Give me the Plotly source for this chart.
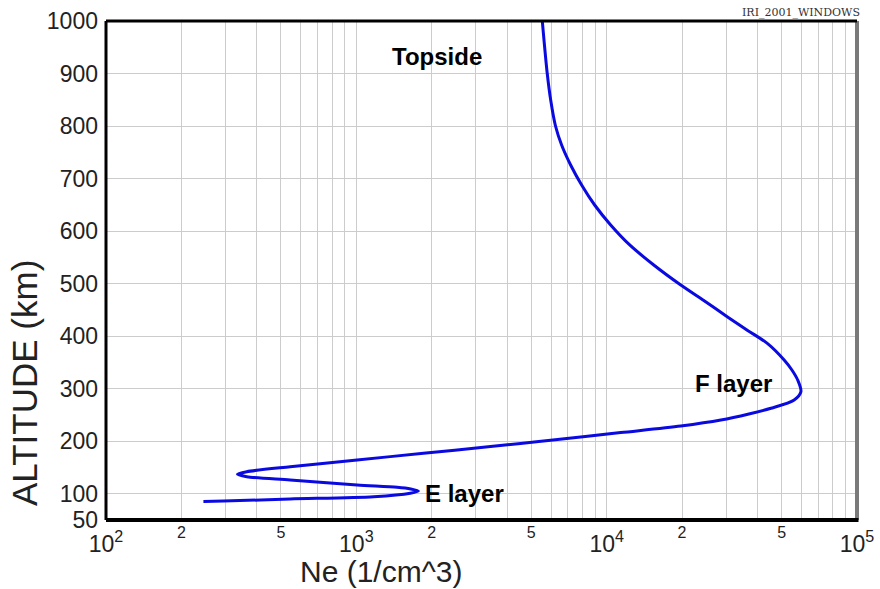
import math
import plotly.graph_objects as go

# Electron density profile (IRI-2001)
altitude_km = [85, 86, 90, 94.4, 101, 105, 109, 112.3, 116.7, 126.2, 132.5, 137, 142, 151.5, 164.3,
               177, 189.8, 195.8, 201.8, 216.4, 229, 240.4, 251.9, 262.7, 278.5, 294.3, 316.6, 335.6,
               354.7, 385.9, 411, 436.5, 468, 497.4, 535.5, 573.6, 611.6, 649.7, 687.8, 725.9, 763.9,
               800.1, 849.6, 901, 1000]
ne_cm3 = [245, 295, 544, 1173, 1644, 1770, 1650, 1455, 1007, 544, 365, 335, 365, 544, 1007,
          1854, 3436, 4530, 5970, 11380, 19770, 28580, 36980, 45290, 56100, 59700, 57940, 54950,
          51170, 43950, 36550, 30400, 24430, 19770, 15420, 12360, 10375, 8954, 7943, 7178, 6607,
          6246, 5976, 5786, 5532]

y_ticks = [50, 100, 200, 300, 400, 500, 600, 700, 800, 900, 1000]
decades = [100, 1000, 10000, 100000]
decade_labels = ["10<sup>2</sup>", "10<sup>3</sup>", "10<sup>4</sup>", "10<sup>5</sup>"]
minor_vals = [200, 500, 2000, 5000, 20000, 50000]
minor_labels = ["2", "5", "2", "5", "2", "5"]
minor_grid = [m * d for d in [100, 1000, 10000] for m in range(2, 10)]

labels = [("Topside", 2100, 933), ("F layer", 32200, 309), ("E layer", 2700, 101)]

FONT = "Liberation Sans, Arial, sans-serif"
GRID = "#cccccc"

# plot area in pixels
L, R, T, B = 106, 857, 21, 520

fig = go.Figure()
fig.add_trace(go.Scatter(x=ne_cm3, y=altitude_km, mode="lines",
                         line=dict(color="#0a0ae0", width=3, shape="spline", smoothing=0.8),
                         showlegend=False, hoverinfo="x+y"))
fig.add_trace(go.Scatter(x=[decades[0], decades[-1]], y=[y_ticks[0], y_ticks[0]], mode="lines",
                         line=dict(width=0, color="rgba(0,0,0,0)"), xaxis="x2",
                         showlegend=False, hoverinfo="skip"))

fig.update_layout(
    width=880, height=589,
    margin=dict(l=L, r=880 - R, t=T, b=589 - B),
    paper_bgcolor="white", plot_bgcolor="white",
    font=dict(family=FONT, color="#222222"),
    xaxis=dict(type="log", range=[2, 5], tickmode="array", tickvals=decades, ticktext=decade_labels,
               showgrid=True, gridcolor=GRID, gridwidth=1, zeroline=False, showline=False,
               ticks="", tickfont=dict(size=23, color="#222222"), ticklabelstandoff=8,
               automargin=False,
               minor=dict(tickmode="array", tickvals=minor_grid, showgrid=True, gridcolor=GRID,
                          gridwidth=1, ticks="")),
    xaxis2=dict(type="log", range=[2, 5], overlaying="x", side="bottom", tickmode="array",
                tickvals=minor_vals, ticktext=minor_labels, showgrid=False, zeroline=False,
                showline=False, ticks="", tickfont=dict(size=16, color="#222222"),
                ticklabelstandoff=1, automargin=False),
    yaxis=dict(range=[50, 1000], tickmode="array", tickvals=y_ticks, showgrid=True,
               gridcolor=GRID, gridwidth=1, zeroline=False, showline=False, ticks="",
               tickfont=dict(size=23, color="#222222"), ticklabelstandoff=7, automargin=False),
)

# frame
fig.add_shape(type="line", xref="paper", yref="paper", x0=1, x1=1, y0=0, y1=1,
              line=dict(color="#7a7a7a", width=4))
fig.add_shape(type="line", xref="paper", yref="paper", x0=0, x1=1, y0=1, y1=1,
              line=dict(color="black", width=3))
fig.add_shape(type="line", xref="paper", yref="paper", x0=0, x1=0, y0=0, y1=1,
              line=dict(color="black", width=3))
fig.add_shape(type="line", xref="paper", yref="paper", x0=0, x1=1.002, y0=0, y1=0,
              line=dict(color="black", width=4))

for text, xv, yv in labels:
    fig.add_annotation(x=math.log10(xv), y=yv, xref="x", yref="y", text="<b>" + text + "</b>",
                       showarrow=False, xanchor="center", yanchor="middle",
                       font=dict(size=24, color="black", family=FONT))


def px(x, y):
    return (x - L) / (R - L), (B - y) / (B - T)


x0, y0 = px(381, 571)
fig.add_annotation(x=x0, y=y0, xref="paper", yref="paper", text="Ne (1/cm^3)", showarrow=False,
                   xanchor="center", yanchor="middle",
                   font=dict(size=30, color="#222222", family=FONT))
x0, y0 = px(24, 383)
fig.add_annotation(x=x0, y=y0, xref="paper", yref="paper", text="ALTITUDE (km)", textangle=-90,
                   showarrow=False, xanchor="center", yanchor="middle",
                   font=dict(size=35, color="#222222", family=FONT))
x0, y0 = px(862, 12.5)
fig.add_annotation(x=x0, y=y0, xref="paper", yref="paper", text="IRI_2001_WINDOWS",
                   showarrow=False, xanchor="right", yanchor="middle",
                   font=dict(size=11, color="#333333", family="DejaVu Serif, serif"))

fig.write_html("out.html", config={"displayModeBar": False},
               post_script="document.body.style.margin='0px';")
